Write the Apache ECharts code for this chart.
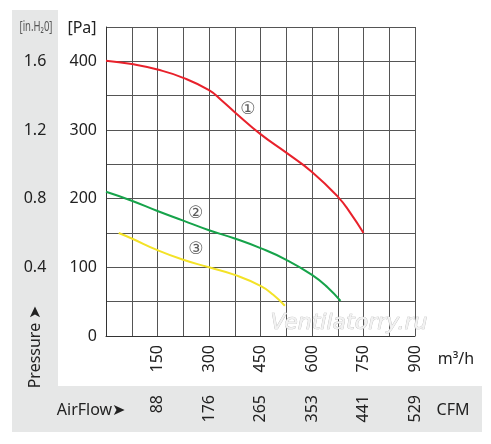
<!DOCTYPE html>
<html>
<head>
<meta charset="utf-8">
<script src="https://cdn.jsdelivr.net/npm/echarts@6/dist/echarts.min.js"></script>
<style>
  html, body { margin: 0; padding: 0; background: #fff; }
  #chart { width: 491px; height: 444px; }
</style>
</head>
<body>
<div id="chart"></div>
<script>
// curve 1 (red), flow m3/h -> pressure Pa
let flow1 = [0, 75, 150, 225, 300, 337, 375, 450, 525, 600, 675, 712, 750]
let press1 = [401, 396, 388, 376, 358, 343, 326, 294, 267, 239, 203, 179, 150]
// curve 2 (green)
let flow2 = [0, 75, 150, 225, 300, 375, 450, 525, 600, 645, 683]
let press2 = [210, 197, 182, 168, 154, 142, 128, 111, 89, 71, 51]
// curve 3 (yellow)
let flow3 = [37, 75, 150, 225, 300, 375, 450, 487, 521]
let press3 = [150, 142, 125, 111, 100, 89, 73, 60, 44]

// curve markers
let markText = ['①', '②', '③']
let markFlow = [413, 261, 262]
let markPress = [330, 179, 126]

// tick labels
let flowTicks = [150, 300, 450, 600, 750, 900]
let cfmTicks = ['88', '176', '265', '353', '441', '529']
let paTicks = [0, 100, 200, 300, 400]
let inchTicks = ['', '0.4', '0.8', '1.2', '1.6']

const FONT = 'Noto Sans'
const TXT = '#222'

function pairs(xs, ys) {
  return xs.map(function (x, i) {
    return [x, ys[i]]
  })
}

let myChart = echarts.init(document.getElementById('chart'), null, {renderer: 'canvas'})

let option = {
  backgroundColor: '#fff',
  animation: false,
  textStyle: {fontFamily: FONT},
  grid: {left: 106, right: 76, top: 27, bottom: 108, show: false},
  graphic: [
    // grey L-shaped panel
    {type: 'rect', z: -10, shape: {x: 12, y: 10, width: 46, height: 376}, style: {fill: '#e6e7e7'}},
    {type: 'rect', z: -10, shape: {x: 12, y: 386, width: 470, height: 46}, style: {fill: '#e6e7e7'}},
    {type: 'text', x: 36, y: 27, scaleX: 0.68, style: {text: '[in.H\u20820]', font: '14px ' + FONT, fill: '#555', align: 'center', verticalAlign: 'middle'}},
    {type: 'text', x: 82, y: 28, style: {text: '[Pa]', font: '16px ' + FONT, fill: TXT, align: 'center', verticalAlign: 'middle'}},
    {type: 'text', x: 35, y: 347, rotation: Math.PI / 2, style: {text: 'Pressure \u27A4', font: '16px ' + FONT, fill: TXT, align: 'center', verticalAlign: 'middle'}},
    {type: 'text', x: 456, y: 359, style: {text: 'm\u00B3/h', font: '16px ' + FONT, fill: TXT, align: 'center', verticalAlign: 'middle'}},
    {type: 'text', x: 91, y: 410, style: {text: 'AirFlow\u27A4', font: '16px ' + FONT, fill: TXT, align: 'center', verticalAlign: 'middle'}},
    {type: 'text', x: 453, y: 410, style: {text: 'CFM', font: '16px ' + FONT, fill: TXT, align: 'center', verticalAlign: 'middle'}},
    {type: 'text', x: 349, y: 323, z: 50, style: {text: 'Ventilatorry.ru', font: 'italic 22px "DejaVu Sans"', fill: '#f2f2f2', stroke: '#bbbbbb', lineWidth: 0.7, align: 'center', verticalAlign: 'middle'}}
  ],
  xAxis: [
    {
      type: 'value', min: 0, max: 900, interval: 75, position: 'bottom',
      axisLine: {show: true, onZero: false, lineStyle: {color: '#333', width: 1}},
      axisTick: {show: false},
      splitLine: {show: true, lineStyle: {color: '#555', width: 1}},
      axisLabel: {
        rotate: 90, margin: 9, fontSize: 16, color: TXT, fontFamily: FONT,
        formatter: function (v) {
          return flowTicks.indexOf(v) >= 0 ? String(v) : ''
        }
      }
    },
    {
      type: 'value', min: 0, max: 900, interval: 75, position: 'bottom', offset: 51,
      axisLine: {show: false}, axisTick: {show: false}, splitLine: {show: false},
      axisLabel: {
        rotate: 90, margin: 8, fontSize: 16, color: TXT, fontFamily: FONT,
        formatter: function (v) {
          let i = flowTicks.indexOf(v)
          return i >= 0 ? cfmTicks[i] : ''
        }
      }
    }
  ],
  yAxis: [
    {
      type: 'value', min: 0, max: 450, interval: 50, position: 'left',
      axisLine: {show: true, onZero: false, lineStyle: {color: '#333', width: 1}},
      axisTick: {show: false},
      splitLine: {show: true, lineStyle: {color: '#555', width: 1}},
      axisLabel: {
        margin: 9, fontSize: 16, color: TXT, fontFamily: FONT,
        formatter: function (v) {
          return paTicks.indexOf(v) >= 0 ? String(v) : ''
        }
      }
    },
    {
      type: 'value', min: 0, max: 450, interval: 50, position: 'left',
      axisLine: {show: false}, axisTick: {show: false}, splitLine: {show: false},
      axisLabel: {
        margin: 71, align: 'center', fontSize: 16, color: TXT, fontFamily: FONT,
        formatter: function (v) {
          let i = paTicks.indexOf(v)
          return i >= 0 ? inchTicks[i] : ''
        }
      }
    }
  ],
  series: [
    {type: 'line', data: pairs(flow1, press1), smooth: 0.5, showSymbol: false, lineStyle: {color: '#e8212b', width: 2}, z: 5},
    {type: 'line', data: pairs(flow2, press2), smooth: 0.5, showSymbol: false, lineStyle: {color: '#16a34a', width: 2}, z: 5},
    {type: 'line', data: pairs(flow3, press3), smooth: 0.5, showSymbol: false, lineStyle: {color: '#f3e227', width: 2}, z: 5},
    {
      type: 'scatter', symbolSize: 0, z: 6,
      data: pairs(markFlow, markPress),
      label: {
        show: true, position: 'inside', fontSize: 17, color: '#333', fontFamily: 'DejaVu Sans',
        formatter: function (p) {
          return markText[p.dataIndex]
        }
      }
    }
  ]
}

myChart.setOption(option)
</script>
</body>
</html>
